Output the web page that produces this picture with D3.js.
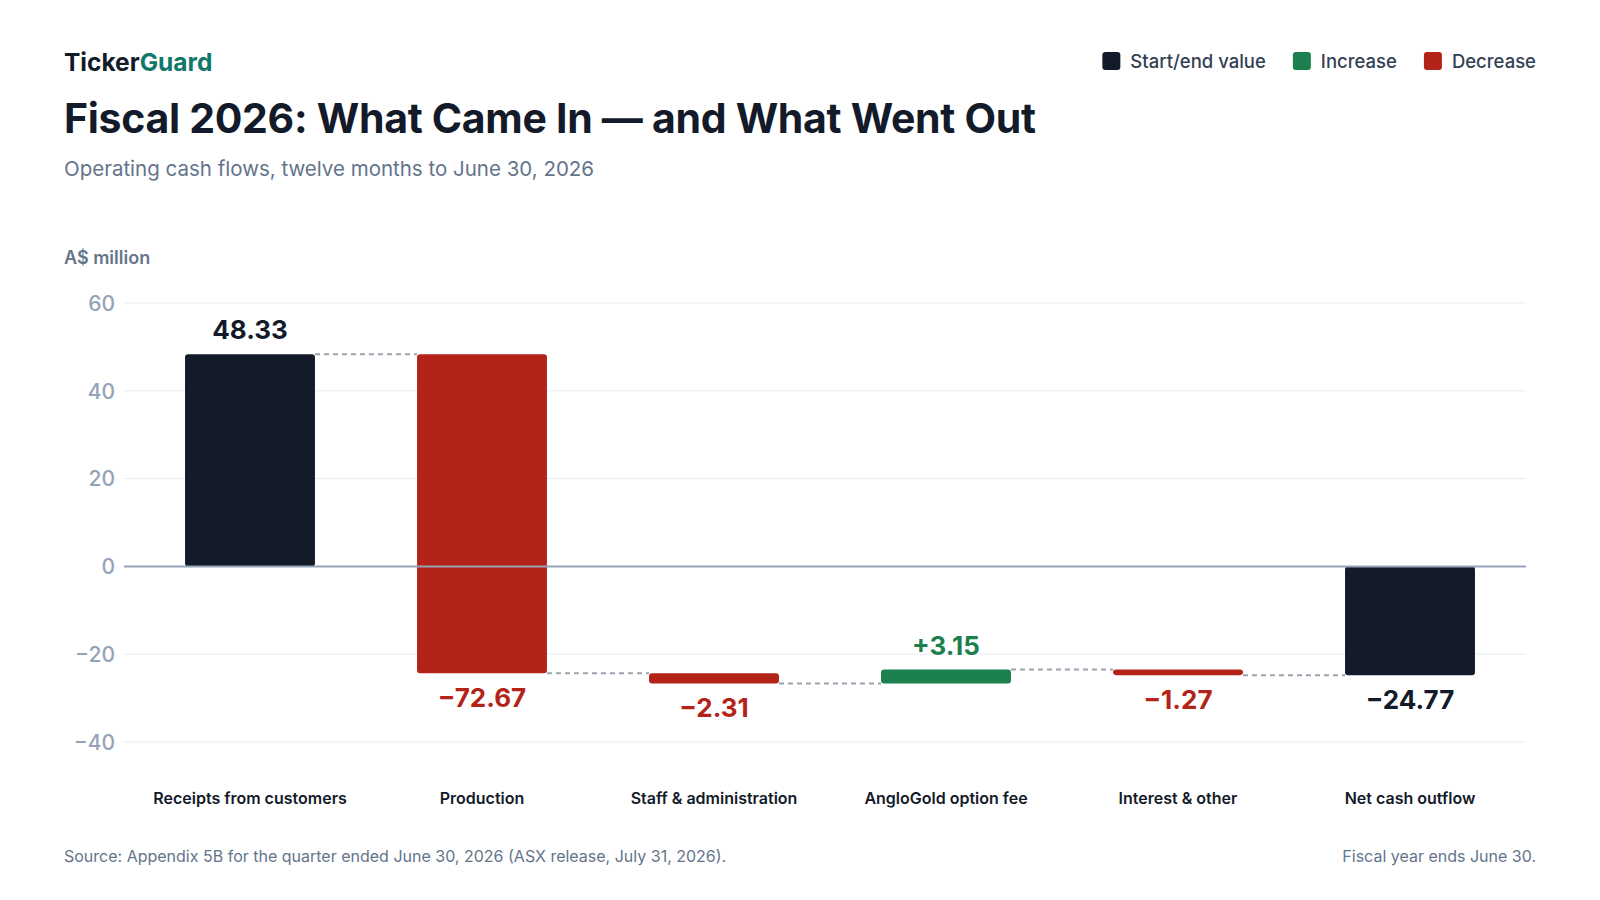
<!DOCTYPE html>
<html>
  <head>
    <meta charset="utf-8" />
    <title>Fiscal 2026 cash flows</title>
    <script src="https://d3js.org/d3.v7.min.js"></script>
    <style>
      body { margin: 0; background: #fff; font-family: Inter, "Noto Sans", sans-serif; }
    </style>
  </head>
  <body>
    <svg id="chart" width="1600" height="900"></svg>

    <script>
      // chart data
      var categories = ["Receipts from customers", "Production", "Staff & administration",
                        "AngloGold option fee", "Interest & other", "Net cash outflow"];
      var values = [48.33, -72.67, -2.31, 3.15, -1.27, -24.77];
      var kinds = ["total", "delta", "delta", "delta", "delta", "total"];
      var yTicks = [-40, -20, 0, 20, 40, 60];
      var legendItems = ["Start/end value", "Increase", "Decrease"];

      var colors = { total: "#131a29", up: "#1b7f4e", down: "#b32318" };
      var legendColors = [colors.total, colors.up, colors.down];

      var svg = d3.select("#chart");
      var left = 64, right = 1536;

      // running totals -> bar start / end
      var running = 0;
      var bars = categories.map(function(c, i) {
        var start, end;
        if (kinds[i] == "total") {
          start = 0; end = values[i]; running = values[i];
        } else {
          start = running; end = running + values[i]; running = end;
        }
        var type = kinds[i] == "total" ? "total" : (values[i] >= 0 ? "up" : "down");
        return { name: c, value: values[i], start: start, end: end, type: type };
      });

      var x = d3.scaleBand().domain(categories).range([134, 1526])
          .paddingInner(0.44).paddingOuter(0.22);
      var y = d3.scaleLinear().domain([-40, 60]).range([742, 303]);

      // header
      svg.append("text").attr("x", left).attr("y", 71)
          .style("font-size", "24.5px").style("font-weight", 700).attr("fill", "#131a29")
          .text("Ticker")
        .append("tspan").attr("fill", "#10776a").text("Guard");

      svg.append("text").attr("x", left).attr("y", 133)
          .style("font-size", "41px").style("font-weight", 700).attr("fill", "#131a29")
          .style("letter-spacing", "-0.3px")
          .text("Fiscal 2026: What Came In \u2014 and What Went Out");

      svg.append("text").attr("x", left).attr("y", 176)
          .style("font-size", "20.5px").attr("fill", "#64748b")
          .text("Operating cash flows, twelve months to June 30, 2026");

      svg.append("text").attr("x", left).attr("y", 264)
          .style("font-size", "18px").style("font-weight", 600).attr("fill", "#64748b")
          .text("A$ million");

      // legend, laid out right to left
      var legend = svg.append("g");
      var lx = right;
      for (var i = legendItems.length - 1; i >= 0; i--) {
        var t = legend.append("text").attr("x", lx).attr("y", 68)
            .attr("text-anchor", "end")
            .style("font-size", "18.5px").style("font-weight", 500).attr("fill", "#334155")
            .text(legendItems[i]);
        var w = t.node().getComputedTextLength();
        legend.append("rect").attr("x", lx - w - 28).attr("y", 52)
            .attr("width", 18).attr("height", 18).attr("rx", 3)
            .attr("fill", legendColors[i]);
        lx = lx - w - 28 - 27;
      }

      // grid + y axis
      var yAxis = d3.axisLeft(y).tickValues(yTicks).tickSize(0)
          .tickFormat(function(d) { return d < 0 ? "\u2212" + Math.abs(d) : d; });
      var ga = svg.append("g").attr("transform", "translate(118,0)").call(yAxis);
      ga.select(".domain").remove();
      ga.selectAll("text").style("font-size", "21px").style("font-family", "Inter")
          .style("font-weight", 500)
          .attr("fill", "#94a3b8").attr("dy", "0.35em");

      svg.append("g").selectAll("line").data(yTicks.filter(function(d) { return d != 0; }))
        .enter().append("line")
          .attr("x1", 124).attr("x2", 1526)
          .attr("y1", function(d) { return y(d); }).attr("y2", function(d) { return y(d); })
          .attr("stroke", "#e8ebef").attr("stroke-width", 1);

      // connectors
      svg.append("g").selectAll("line").data(bars.slice(0, -1))
        .enter().append("line")
          .attr("x1", function(d) { return x(d.name) + x.bandwidth(); })
          .attr("x2", function(d, i) { return x(categories[i + 1]); })
          .attr("y1", function(d) { return y(d.end); })
          .attr("y2", function(d) { return y(d.end); })
          .attr("stroke", "#9ca3af").attr("stroke-width", 2)
          .attr("stroke-dasharray", "5,4");

      // bars
      svg.append("g").selectAll("rect").data(bars)
        .enter().append("rect")
          .attr("x", function(d) { return x(d.name); })
          .attr("width", x.bandwidth())
          .attr("y", function(d) { return y(Math.max(d.start, d.end)); })
          .attr("height", function(d) { return Math.abs(y(d.start) - y(d.end)); })
          .attr("rx", 3)
          .attr("fill", function(d) { return colors[d.type]; });

      // zero line on top of bars
      svg.append("line").attr("x1", 124).attr("x2", 1526)
          .attr("y1", y(0)).attr("y2", y(0))
          .attr("stroke", "#94a3b8").attr("stroke-width", 2);

      // value labels
      svg.append("g").selectAll("text").data(bars)
        .enter().append("text")
          .attr("x", function(d) { return x(d.name) + x.bandwidth() / 2; })
          .attr("y", function(d) {
            var up = d.value >= 0;
            return up ? y(Math.max(d.start, d.end)) - 15 : y(Math.min(d.start, d.end)) + 34;
          })
          .attr("text-anchor", "middle")
          .style("font-size", "26px").style("font-weight", 700)
          .attr("fill", function(d) { return colors[d.type]; })
          .text(function(d) {
            var s = Math.abs(d.value).toFixed(2);
            if (d.value < 0) return "\u2212" + s;
            return d.type == "up" ? "+" + s : s;
          });

      // category labels
      svg.append("g").selectAll("text").data(categories)
        .enter().append("text")
          .attr("x", function(d) { return x(d) + x.bandwidth() / 2; })
          .attr("y", 804)
          .attr("text-anchor", "middle")
          .style("font-size", "16px").style("font-weight", 600).attr("fill", "#131a29")
          .text(function(d) { return d; });

      // footer
      svg.append("text").attr("x", left).attr("y", 862)
          .style("font-size", "16px").attr("fill", "#64748b")
          .text("Source: Appendix 5B for the quarter ended June 30, 2026 (ASX release, July 31, 2026).");
      svg.append("text").attr("x", right).attr("y", 862).attr("text-anchor", "end")
          .style("font-size", "16px").attr("fill", "#64748b")
          .text("Fiscal year ends June 30.");
    </script>
  </body>
</html>
